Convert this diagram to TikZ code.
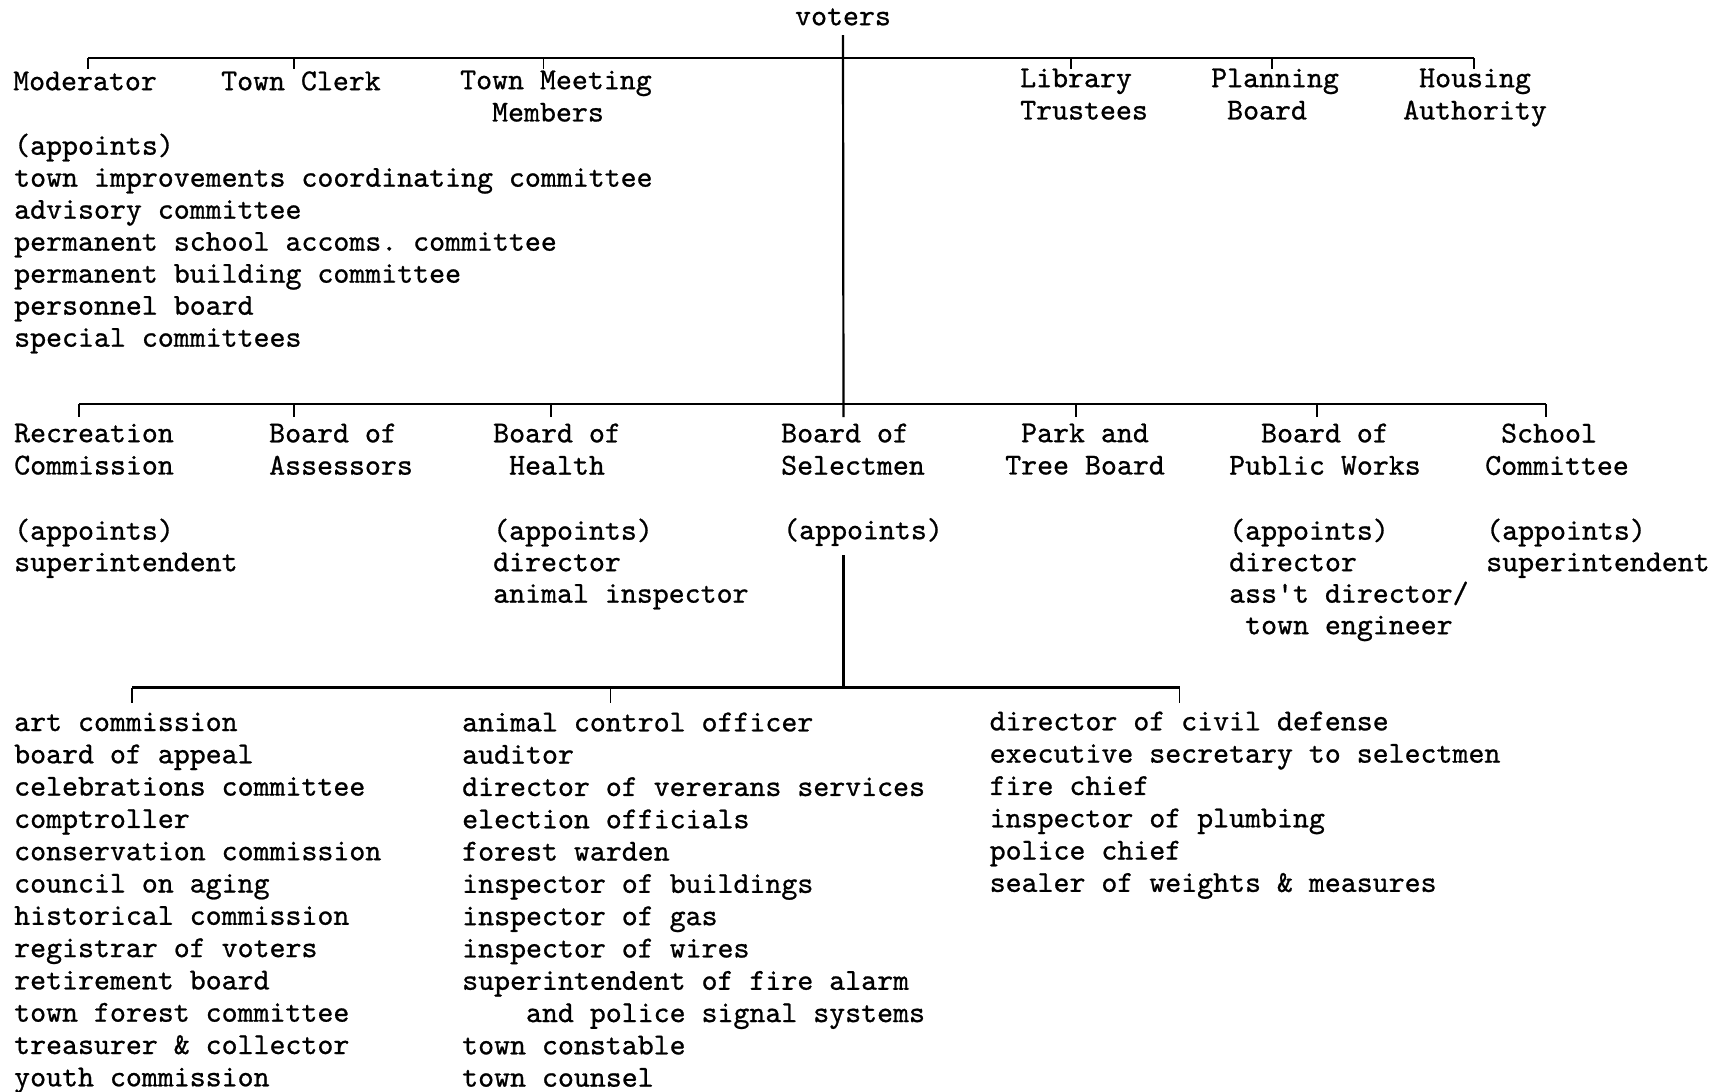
\documentclass[tikz,border=0pt]{standalone}
\usepackage{fontspec}
\newfontfamily\tw{lmmono10-regular.otf}[FakeBold=0.8]
\frenchspacing
\begin{document}
\begin{tikzpicture}[x=1pt,y=-1pt,
  txt/.style={font=\tw\fontsize{30.4}{32.3}\selectfont, inner sep=0pt, anchor=north west, align=left, execute at begin node=\strut},
  tight/.style={font=\tw\fontsize{30.4}{31.5}\selectfont},
  mid/.style={font=\tw\fontsize{30.4}{32.0}\selectfont},
  bus/.style={line width=2.2pt},
  tick/.style={line width=1.6pt}]
\useasboundingbox (0,0) rectangle (1722,1092);
% voters
\node[txt, anchor=north] (voters) at (843,2.4) {voters};
% top row
\node[txt] (mod) at (13,67.4) {Moderator};
\node[txt] (clerk) at (221,67.4) {Town Clerk};
\node[txt] (tmm) at (460,70.4) {Town Meeting\\\hspace*{1.05em}Members};
\node[txt] (lib) at (1020,68.4) {Library\\Trustees};
\node[txt] (plan) at (1211,68.4) {Planning\\\hspace*{0.525em}Board};
\node[txt] (hous) at (1403,68.4) {\hspace*{0.525em}Housing\\Authority};
\node[txt, mid] (modlist) at (14,133.4) {(appoints)\\town improvements coordinating committee\\advisory committee\\permanent school accoms. committee\\permanent building committee\\personnel board\\special committees};
% second row
\node[txt] (rec) at (14,423.4) {Recreation\\Commission};
\node[txt] (assess) at (269,423.4) {Board of\\Assessors};
\node[txt] (health) at (493,423.4) {Board of\\\hspace*{0.525em}Health};
\node[txt] (sel) at (781,423.4) {Board of\\Selectmen};
\node[txt] (park) at (1005,423.4) {\hspace*{0.525em}Park and\\Tree Board};
\node[txt] (bpw) at (1229,423.4) {\hspace*{1.05em}Board of\\Public Works};
\node[txt] (school) at (1485,423.4) {\hspace*{0.525em}School\\Committee};
% appoints
\node[txt, tight] (recapp) at (14,518.4) {(appoints)\\superintendent};
\node[txt, tight] (healthapp) at (493,518.4) {(appoints)\\director\\animal inspector};
\node[txt] (selapp) at (783,516.4) {(appoints)};
\node[txt, tight] (bpwapp) at (1229,518.4) {(appoints)\\director\\ass't director/\\\hspace*{0.525em}town engineer};
\node[txt, tight] (schoolapp) at (1486,518.4) {(appoints)\\superintendent};
% lists
\node[txt] (la) at (14,712.4) {art commission\\board of appeal\\celebrations committee\\comptroller\\conservation commission\\council on aging\\historical commission\\registrar of voters\\retirement board\\town forest committee\\treasurer \& collector\\youth commission};
\node[txt] (lb) at (462,712.4) {animal control officer\\auditor\\director of vererans services\\election officials\\forest warden\\inspector of buildings\\inspector of gas\\inspector of wires\\superintendent of fire alarm\\\hspace*{2.1em}and police signal systems\\town constable\\town counsel};
\node[txt] (lc) at (989.5,711.4) {director of civil defense\\executive secretary to selectmen\\fire chief\\inspector of plumbing\\police chief\\sealer of weights \& measures};
% coordinates
\coordinate (tA) at (88,58);   \coordinate (tAe) at (88,69);
\coordinate (tB) at (294,58);  \coordinate (tBe) at (294,69);
\coordinate (tC) at (543.6,58); \coordinate (tCe) at (543.6,69);
\coordinate (tD) at (1070.7,58); \coordinate (tDe) at (1070.7,69);
\coordinate (tE) at (1271.7,58); \coordinate (tEe) at (1271.7,69);
\coordinate (tF) at (1474,58); \coordinate (tFe) at (1474,69);
\coordinate (trunkend) at (843.5,417);
\coordinate (mA) at (79,404);  \coordinate (mAe) at (79,417);
\coordinate (mB) at (294,404); \coordinate (mBe) at (294,417);
\coordinate (mC) at (551,404); \coordinate (mCe) at (551,417);
\coordinate (mE) at (1076,404); \coordinate (mEe) at (1076,417);
\coordinate (mF) at (1317,404); \coordinate (mFe) at (1317,417);
\coordinate (mG) at (1546,404); \coordinate (mGe) at (1546,417);
\coordinate (sTop) at (843.5,555);
\coordinate (sBus) at (843.5,687.5);
\coordinate (bA) at (132,687.5); \coordinate (bAe) at (132,703);
\coordinate (bB) at (610.6,687.5); \coordinate (bBe) at (610.6,703);
\coordinate (bC) at (1179.5,687.5); \coordinate (bCe) at (1179.5,703);
% connectors
\draw[bus] (voters.south) -- (trunkend);
\draw[bus] (tA) -- (tF);
\foreach \a in {A,B,C,D,E,F} \draw[tick] (t\a) -- (t\a e);
\draw[bus] (mA) -- (mG);
\foreach \a in {A,B,C,E,F,G} \draw[tick] (m\a) -- (m\a e);
\draw[bus] (sTop) -- (sBus);
\draw[bus] (bA) -- (bC);
\foreach \a in {A,B,C} \draw[tick] (b\a) -- (b\a e);
\end{tikzpicture}
\end{document}
